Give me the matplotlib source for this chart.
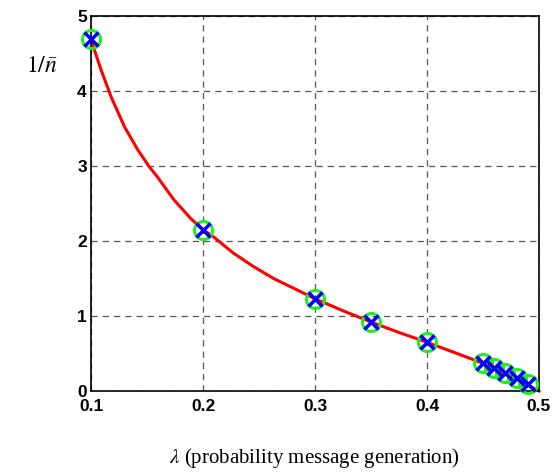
import numpy as np
import matplotlib.pyplot as plt

# simulated points
lam_pts = [0.10, 0.20, 0.30, 0.35, 0.40, 0.45, 0.46, 0.47, 0.48, 0.49]
inv_n_pts = [4.70, 2.15, 1.23, 0.92, 0.65, 0.37, 0.31, 0.24, 0.17, 0.10]

# analytical curve
lam_curve = [0.100, 0.103, 0.109, 0.118, 0.130, 0.142, 0.152, 0.159, 0.174,
             0.189, 0.200, 0.209, 0.227, 0.245, 0.263, 0.281, 0.300, 0.325,
             0.350, 0.375, 0.400, 0.425, 0.450, 0.475, 0.500]
inv_n_curve = [4.70, 4.55, 4.28, 3.92, 3.52, 3.21, 2.99, 2.86, 2.55,
               2.30, 2.15, 2.06, 1.84, 1.66, 1.50, 1.37, 1.23, 1.07,
               0.92, 0.78, 0.65, 0.51, 0.37, 0.20, 0.00]

plt.rcParams['mathtext.fontset'] = 'stix'

fig = plt.figure(figsize=(5.52, 4.74), dpi=100)
ax = fig.add_axes([0.1649, 0.1751, 0.8115, 0.7911])

ax.plot(lam_curve, inv_n_curve, color='red', lw=2.2, zorder=2, clip_on=False)
ax.plot(lam_pts, inv_n_pts, 'o', ms=13, mfc='none', mec='#22ee22', mew=2.2,
        zorder=3, clip_on=False)
ax.plot(lam_pts, inv_n_pts, 'x', ms=10, color='blue', mew=2.5, zorder=4,
        clip_on=False)

ax.set_xlim(0.1, 0.5)
ax.set_ylim(0, 5)
ax.set_xticks([0.1, 0.2, 0.3, 0.4, 0.5])
ax.set_xticklabels(['0.1', '0.2', '0.3', '0.4', '0.5'])
ax.set_yticks([0, 1, 2, 3, 4, 5])
ax.grid(True, ls=(0, (5, 4)), color='#555555', lw=0.9)
ax.tick_params(direction='in', length=0)
ax.tick_params(axis='x', pad=6)
ax.tick_params(axis='y', pad=3)
for lbl in ax.get_xticklabels() + ax.get_yticklabels():
    lbl.set_fontfamily('Liberation Sans')
    lbl.set_fontweight('bold')
    lbl.set_fontsize(12.5)
for s in ax.spines.values():
    s.set_linewidth(1.2)

fig.text(0.075, 0.862, r'$1/\bar{n}$', fontsize=17, ha='center', va='center')
fig.text(0.57, 0.033, r'$\lambda$ (probability message generation)',
         fontsize=15, ha='center', va='center', family='Liberation Serif')

fig.savefig('out.png', dpi=100)
